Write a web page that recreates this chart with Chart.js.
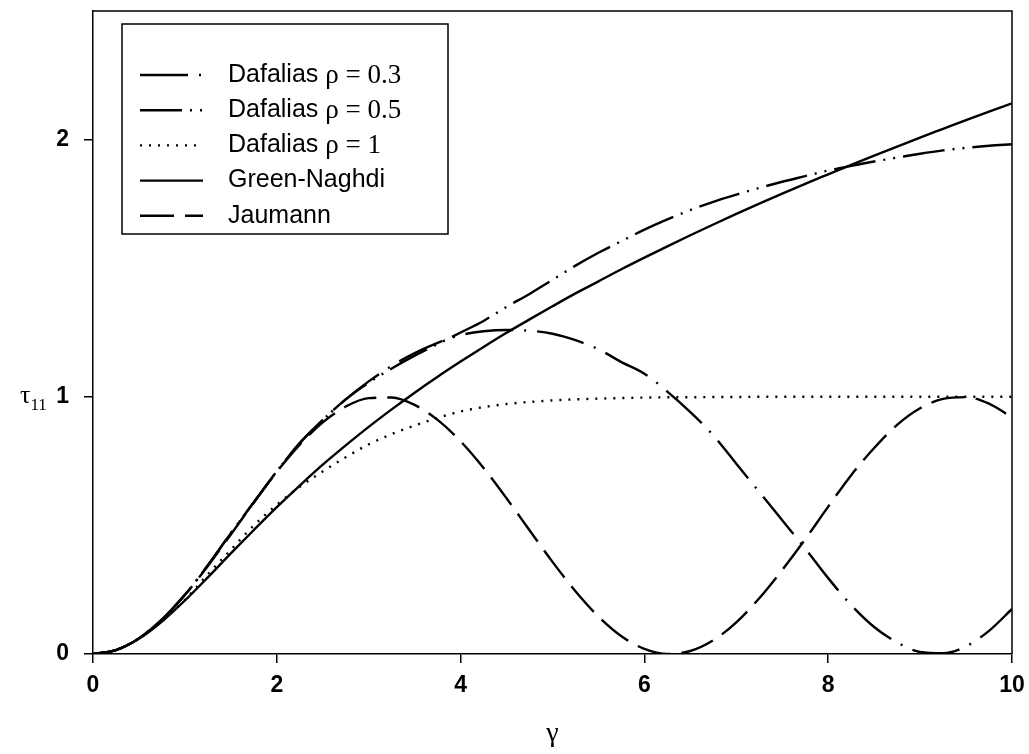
<!DOCTYPE html>
<html>
<head>
<meta charset="utf-8">
<script src="https://cdn.jsdelivr.net/npm/chart.js@4.4.0/dist/chart.umd.min.js"></script>
<style>
  html, body { margin: 0; padding: 0; background: #fff; }
  #wrap { width: 1029px; height: 754px; }
</style>
</head>
<body>
<div id="wrap"><canvas id="c" width="1029" height="754"></canvas></div>
<script>
// ---- data ----
const gamma = [0,0.25,0.5,0.75,1,1.25,1.5,1.75,2,2.25,2.5,2.75,3,3.25,3.5,3.75,4,4.25,4.5,4.75,5,
  5.25,5.5,5.75,6,6.25,6.5,6.75,7,7.25,7.5,7.75,8,8.25,8.5,8.75,9,9.25,9.5,9.75,10];

const dafalias03 = [0,0.0155,0.061,0.134,0.23,0.345,0.47,0.59,0.71,0.82,0.91,0.99,1.06,1.12,1.17,1.21,1.24,
  1.255,1.26,1.257,1.245,1.22,1.185,1.135,1.09,1.02,0.94,0.85,0.74,0.63,0.52,0.41,0.295,0.19,0.105,0.045,
  0.008,0.003,0.03,0.09,0.175];

const dafalias05 = [0,0.0155,0.061,0.134,0.23,0.345,0.47,0.59,0.71,0.82,0.91,0.99,1.055,1.11,1.16,1.205,1.25,
  1.295,1.35,1.40,1.455,1.51,1.56,1.605,1.65,1.69,1.726,1.758,1.786,1.812,1.836,1.858,1.88,1.898,1.915,1.93,
  1.945,1.958,1.968,1.976,1.982];

const dafalias1 = [0,0.0155,0.06,0.13,0.21,0.31,0.405,0.50,0.58,0.65,0.71,0.765,0.815,0.855,0.888,0.918,0.943,
  0.96,0.972,0.98,0.986,0.99,0.993,0.995,0.997,0.998,0.998,0.999,0.999,1,1,1,1,1,1,1,1,1,1,1,1];

const greenNaghdi = [0,0.015,0.059,0.126,0.208,0.298,0.391,0.482,0.571,0.655,0.736,0.811,0.883,0.951,1.016,
  1.078,1.137,1.194,1.249,1.301,1.352,1.402,1.449,1.496,1.541,1.585,1.628,1.670,1.711,1.751,1.790,1.828,
  1.865,1.902,1.938,1.973,2.008,2.042,2.076,2.109,2.141];

const jaumann = [0,0.0155,0.0612,0.1342,0.2298,0.3423,0.4646,0.5891,0.7081,0.8141,0.9006,0.9622,0.995,0.9971,
  0.9683,0.9103,0.8268,0.7231,0.6054,0.4812,0.3582,0.244,0.1457,0.0694,0.0199,0.0001,0.0117,0.0535,0.1231,
  0.2169,0.3267,0.4461,0.5728,0.6954,0.801,0.8911,0.9556,0.9921,0.9986,0.9734,0.9196];

const xTicks = [0, 2, 4, 6, 8, 10];
const yTicks = [0, 1, 2];

const legendRows = [
  { sans: 'Dafalias ', serif: 'ρ = 0.3' },
  { sans: 'Dafalias ', serif: 'ρ = 0.5' },
  { sans: 'Dafalias ', serif: 'ρ = 1' },
  { sans: 'Green-Naghdi', serif: '' },
  { sans: 'Jaumann', serif: '' }
];

// ---- chart ----
const SANS = '"Liberation Sans", Arial, sans-serif';
const SERIF = '"Liberation Serif", "Times New Roman", serif';

function pts(ys) { return ys.map((y, i) => ({ x: gamma[i], y: y })); }

const styles = [
  { data: dafalias03, dash: [48, 11, 2, 11] },
  { data: dafalias05, dash: [42, 8, 2, 8, 2, 8] },
  { data: dafalias1, dash: [2, 7] },
  { data: greenNaghdi, dash: [] },
  { data: jaumann, dash: [34, 11] }
];

const datasets = styles.map((s, i) => ({
  label: legendRows[i].sans + legendRows[i].serif,
  data: pts(s.data),
  borderColor: '#000',
  borderWidth: 2.4,
  borderDash: s.dash,
  pointRadius: 0,
  fill: false,
  cubicInterpolationMode: 'monotone'
}));

const framePlugin = {
  id: 'frame',
  afterDraw(chart) {
    const { ctx, chartArea: a } = chart;
    ctx.save();
    ctx.strokeStyle = '#000';
    ctx.lineWidth = 1.5;
    ctx.beginPath();
    ctx.moveTo(a.left, a.top);
    ctx.lineTo(a.right, a.top);
    ctx.lineTo(a.right, a.bottom);
    ctx.stroke();

    // y-axis title tau_11
    ctx.fillStyle = '#000';
    ctx.textBaseline = 'alphabetic';
    ctx.textAlign = 'left';
    ctx.font = '26px ' + SERIF;
    ctx.fillText('τ', 20, 403);
    const w = ctx.measureText('τ').width;
    ctx.font = '17px ' + SERIF;
    ctx.fillText('11', 20 + w, 410);

    // legend
    const bx = 122, by = 24, bw = 326, bh = 210;
    ctx.lineWidth = 1.5;
    ctx.setLineDash([]);
    ctx.strokeRect(bx, by, bw, bh);
    const y0 = 75, dy = 35.2;
    chart.data.datasets.forEach((ds, i) => {
      const y = y0 + i * dy;
      ctx.save();
      ctx.lineWidth = ds.borderWidth;
      ctx.setLineDash(ds.borderDash);
      ctx.beginPath();
      ctx.moveTo(140, y);
      ctx.lineTo(203, y);
      ctx.stroke();
      ctx.restore();
      ctx.textBaseline = 'middle';
      ctx.font = '25px ' + SANS;
      ctx.fillText(legendRows[i].sans, 228, y);
      const sw = ctx.measureText(legendRows[i].sans).width;
      if (legendRows[i].serif) {
        ctx.font = '27px ' + SERIF;
        ctx.fillText(legendRows[i].serif, 228 + sw, y + 1);
      }
    });
    ctx.restore();
  }
};

new Chart(document.getElementById('c'), {
  type: 'line',
  data: { datasets },
  plugins: [framePlugin],
  options: {
    responsive: false,
    animation: false,
    devicePixelRatio: 1,
    layout: { padding: { top: 11, right: 17, left: 0, bottom: 0 } },
    plugins: { legend: { display: false }, tooltip: { enabled: false } },
    scales: {
      x: {
        type: 'linear', min: 0, max: 10,
        afterBuildTicks(s) { s.ticks = xTicks.map(v => ({ value: v })); },
        afterFit(s) { s.height = 100; s.paddingLeft = 0; s.paddingRight = 0; },
        ticks: { color: '#000', font: { family: SANS, size: 23, weight: 'bold' }, padding: 9, maxRotation: 0 },
        grid: { display: true, drawOnChartArea: false, drawTicks: true, tickLength: 9, color: '#000', lineWidth: 1.5 },
        border: { display: true, color: '#000', width: 1.5 },
        title: { display: true, text: 'γ', color: '#000', font: { family: SERIF, size: 28 }, padding: { top: 0, bottom: 4 } }
      },
      y: {
        type: 'linear', min: 0, max: 2.5,
        afterBuildTicks(s) { s.ticks = yTicks.map(v => ({ value: v })); },
        afterFit(s) { s.width = 93; s.paddingTop = 0; s.paddingBottom = 0; },
        ticks: { color: '#000', font: { family: SANS, size: 23, weight: 'bold' }, padding: 15 },
        grid: { display: true, drawOnChartArea: false, drawTicks: true, tickLength: 9, color: '#000', lineWidth: 1.5 },
        border: { display: true, color: '#000', width: 1.5 }
      }
    }
  }
});
</script>
</body>
</html>
